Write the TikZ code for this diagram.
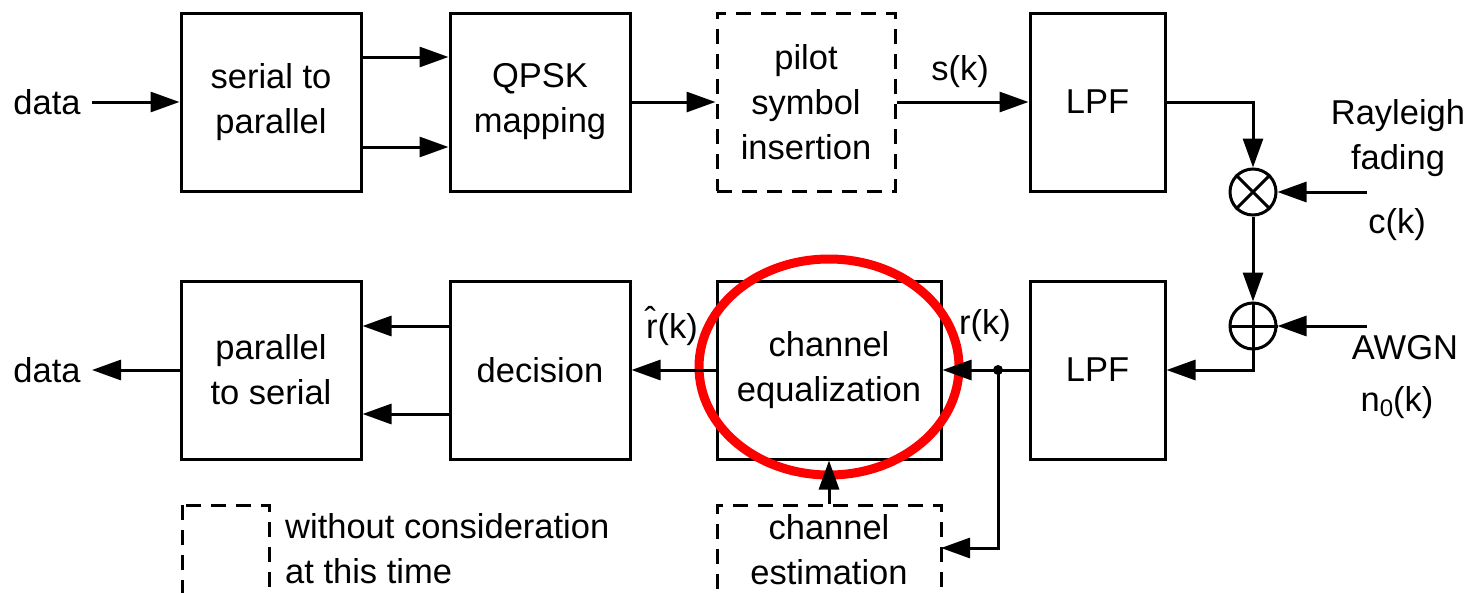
\documentclass[tikz,border=0pt]{standalone}
\usepackage{fontspec}
\setmainfont{Liberation Sans}
\usetikzlibrary{arrows.meta}
\begin{document}
\begin{tikzpicture}[x=1pt,y=-1pt,
  txt/.style={font=\fontsize{34.5pt}{45pt}\selectfont, align=center, inner sep=0pt},
  blk/.style={draw, line width=3pt, rectangle, inner sep=0pt, minimum height=178pt, txt},
  dashes/.style={dash pattern=on 15pt off 10pt},
  dblk/.style={blk, dashes},
  arr/.style={line width=3pt, -{Triangle[length=29pt,width=20pt]}},
  ln/.style={line width=3pt},
  op/.style={draw, circle, line width=3pt, minimum size=46pt, inner sep=0pt}]
\clip (0,0) rectangle (1470,592);
\useasboundingbox (0,0) rectangle (1470,592);

% transmitter chain
\node[blk, minimum width=180pt] (s2p) at (271,102) {serial to\\parallel};
\node[blk, minimum width=180pt] (qpsk) at (540,102) {QPSK\\mapping};
\node[dblk, minimum width=178pt] (pilot) at (806,102) {pilot\\symbol\\insertion};
\node[blk, minimum width=135pt] (lpf1) at (1097.5,102) {LPF};

% receiver chain
\node[blk, minimum width=180pt] (p2s) at (271,370) {parallel\\to serial};
\node[blk, minimum width=180pt] (dec) at (540,370) {decision};
\node[blk, minimum width=224pt] (eq) at (829,370) {channel\\equalization};
\node[blk, minimum width=135pt] (lpf2) at (1097.5,370) {LPF};

% channel estimation (runs past the lower edge; the empty third line keeps the text high)
\node[dblk, minimum width=224pt, minimum height=133pt] (est) at (829,571.5) {channel\\estimation\\\mbox{}};

% legend
\draw[ln, dashes] (182,505) rectangle (269,640);
\node[txt, anchor=west, align=left] (legtext) at (285,549) {without consideration\\at this time};

% channel operators
\node[op] (mul) at (1253,192) {};
\draw[ln] (mul.north west) -- (mul.south east) (mul.north east) -- (mul.south west);
\node[op] (add) at (1253,326) {};
\draw[ln] (add.north) -- (add.south) (add.west) -- (add.east);

% outer labels
\node[txt] (din) at (47,102) {data};
\node[txt] (dout) at (47,370) {data};
\node[txt] (sk) at (960,72) {s(k)};
\node[txt] (rk) at (985,326) {r(k)};
\node[txt] (rhat) at (672,326) {\^{r}(k)};
\node[txt] (ray) at (1398,138) {Rayleigh\\fading};
\node[txt] (ck) at (1397,225) {c(k)};
\node[txt] (awgn) at (1405,348) {AWGN};
\node[txt] (n0) at (1397,403) {n{\fontsize{24pt}{24pt}\selectfont\raisebox{-5pt}{0}}(k)};

% highlight
\draw[red, line width=9pt] (829,367) ellipse [x radius=130pt, y radius=108pt];

% coordinates for free ends
\coordinate (cin) at (1367,192);
\coordinate (nin) at (1367,326);
\coordinate (tap) at (998,370);
\coordinate (estin) at (941,548);
\coordinate (dinend) at (92,102);
\coordinate (doutend) at (92,370);

% transmitter connectors
\draw[arr] (dinend) -- (s2p.west);
\draw[arr] ([yshift=45pt]s2p.east) -- ([yshift=45pt]qpsk.west);
\draw[arr] ([yshift=-45pt]s2p.east) -- ([yshift=-45pt]qpsk.west);
\draw[arr] (qpsk.east) -- (pilot.west);
\draw[arr] (pilot.east) -- (lpf1.west);
\draw[arr] (lpf1.east) -| (mul.north);
\draw[arr] (cin) -- (mul.east);
\draw[arr] (mul.south) -- (add.north);
\draw[arr] (nin) -- (add.east);
\draw[arr] (add.south) |- (lpf2.east);

% receiver connectors
\draw[arr] (lpf2.west) -- (eq.east);
\fill (tap) circle (5pt);
\draw[arr] (tap) |- (estin);
\draw[arr] (est.north) -- (eq.south);
\draw[arr] (eq.west) -- (dec.east);
\draw[arr] ([yshift=44pt]dec.west) -- ([yshift=44pt]p2s.east);
\draw[arr] ([yshift=-44pt]dec.west) -- ([yshift=-44pt]p2s.east);
\draw[arr] (p2s.west) -- (doutend);
\end{tikzpicture}
\end{document}
